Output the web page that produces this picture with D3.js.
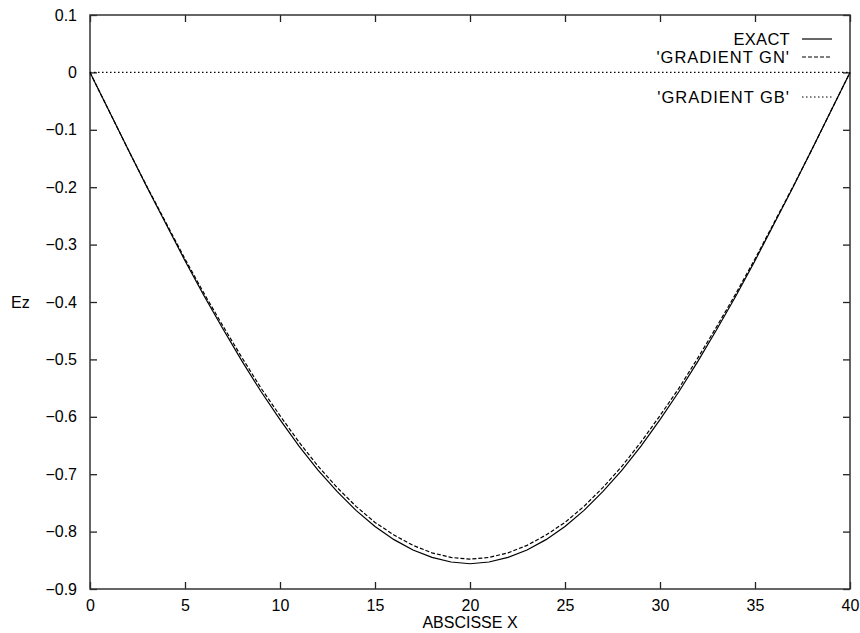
<!DOCTYPE html>
<html>
<head>
<meta charset="utf-8">
<script src="https://cdn.jsdelivr.net/npm/d3@7/dist/d3.min.js"></script>
<style>
  body { margin: 0; background: #fff; }
  svg { display: block; font-family: "Liberation Sans", Arial, sans-serif; }
</style>
</head>
<body>
<svg width="860" height="633"></svg>
<script>
// abscissa of sampled points
var xs = [0,1,2,3,4,5,6,7,8,9,10,11,12,13,14,15,16,17,18,19,20,
          21,22,23,24,25,26,27,28,29,30,31,32,33,34,35,36,37,38,39,40];

// EXACT
var exact = [0,-0.067,-0.134,-0.200,-0.264,-0.328,-0.389,-0.447,-0.503,-0.556,-0.605,
             -0.651,-0.693,-0.730,-0.763,-0.791,-0.814,-0.832,-0.845,-0.853,-0.856,
             -0.853,-0.845,-0.832,-0.814,-0.791,-0.763,-0.730,-0.693,-0.651,-0.605,
             -0.556,-0.503,-0.447,-0.389,-0.328,-0.264,-0.200,-0.134,-0.067,0];

// 'GRADIENT GN'
var gradGN = [0,-0.067,-0.134,-0.199,-0.262,-0.325,-0.385,-0.442,-0.497,-0.550,-0.598,
              -0.644,-0.686,-0.723,-0.756,-0.784,-0.806,-0.824,-0.837,-0.845,-0.848,
              -0.845,-0.837,-0.824,-0.806,-0.784,-0.756,-0.723,-0.686,-0.644,-0.598,
              -0.550,-0.497,-0.442,-0.385,-0.325,-0.262,-0.199,-0.134,-0.067,0];

// 'GRADIENT GB'
var gradGB = [0,0,0,0,0,0,0,0,0,0,0,0,0,0,0,0,0,0,0,0,0,
              0,0,0,0,0,0,0,0,0,0,0,0,0,0,0,0,0,0,0,0];

var xTicks = [0,5,10,15,20,25,30,35,40];
var yTicks = [0.1,0,-0.1,-0.2,-0.3,-0.4,-0.5,-0.6,-0.7,-0.8,-0.9];

var margin = {top: 15, right: 10, bottom: 44, left: 90},
    width = 860 - margin.left - margin.right,
    height = 633 - margin.top - margin.bottom;

var svg = d3.select("svg")
  .append("g")
    .attr("transform", "translate(" + margin.left + "," + margin.top + ")");

var x = d3.scaleLinear().domain([0, 40]).range([0, width]);
var y = d3.scaleLinear().domain([-0.9, 0.1]).range([height, 0]);

var tickLen = 7;
var fs = "16px";

// X axis (bottom labels, inward ticks on bottom and top)
svg.append("g")
    .attr("transform", "translate(0," + height + ")")
    .call(d3.axisBottom(x).tickValues(xTicks).tickSize(-tickLen).tickPadding(11)
      .tickFormat(d3.format("d")))
    .call(function(g) { g.select(".domain").remove(); })
    .selectAll("text")
      .style("font-size", fs)
      .attr("fill", "#000");

svg.append("g")
    .call(d3.axisTop(x).tickValues(xTicks).tickSize(-tickLen).tickFormat(""))
    .call(function(g) { g.select(".domain").remove(); });

// Y axis
svg.append("g")
    .call(d3.axisLeft(y).tickValues(yTicks).tickSize(-tickLen).tickPadding(13)
      .tickFormat(function(d) { return d3.format("")(+d.toFixed(1)); }))
    .call(function(g) { g.select(".domain").remove(); })
    .selectAll("text")
      .style("font-size", fs)
      .attr("fill", "#000");

svg.append("g")
    .attr("transform", "translate(" + width + ",0)")
    .call(d3.axisRight(y).tickValues(yTicks).tickSize(-tickLen).tickFormat(""))
    .call(function(g) { g.select(".domain").remove(); });

svg.selectAll(".tick line").attr("stroke", "#222").attr("stroke-width", 1.3);

// Frame
svg.append("rect")
    .attr("x", 0).attr("y", 0)
    .attr("width", width).attr("height", height)
    .attr("fill", "none")
    .attr("stroke", "#333")
    .attr("stroke-width", 1.5);

// Lines
var series = [
  {name: "EXACT", values: exact, dash: null},
  {name: "'GRADIENT GN'", values: gradGN, dash: "4,2"},
  {name: "'GRADIENT GB'", values: gradGB, dash: "1.5,2.5"}
];

var line = d3.line()
    .x(function(d, i) { return x(xs[i]); })
    .y(function(d) { return y(d); });

svg.selectAll(".curve")
    .data(series)
    .enter()
    .append("path")
      .attr("class", "curve")
      .attr("d", function(s) { return line(s.values); })
      .attr("fill", "none")
      .attr("stroke", "#000")
      .attr("stroke-width", 1.2)
      .attr("stroke-dasharray", function(s) { return s.dash; });

// Legend
var legendY = [24, 42, 82];
var legend = svg.selectAll(".legend")
    .data(series)
    .enter()
    .append("g")
      .attr("class", "legend")
      .attr("transform", function(d, i) { return "translate(0," + legendY[i] + ")"; });

legend.append("text")
    .attr("x", 700)
    .attr("y", 0)
    .attr("dy", "0.35em")
    .attr("text-anchor", "end")
    .style("font-size", "16.5px")
    .style("letter-spacing", function(d, i) { return i ? "1px" : "0.3px"; })
    .text(function(d) { return d.name; });

legend.append("line")
    .attr("x1", 712).attr("x2", 742)
    .attr("y1", 0).attr("y2", 0)
    .attr("stroke", "#000")
    .attr("stroke-width", 1.2)
    .attr("stroke-dasharray", function(d) { return d.dash; });

// Axis titles
svg.append("text")
    .attr("x", width / 2)
    .attr("y", height + 39)
    .attr("text-anchor", "middle")
    .style("font-size", fs)
    .text("ABSCISSE X");

svg.append("text")
    .attr("x", -79)
    .attr("y", y(-0.4))
    .attr("dy", "0.35em")
    .style("font-size", fs)
    .text("Ez");
</script>
</body>
</html>
